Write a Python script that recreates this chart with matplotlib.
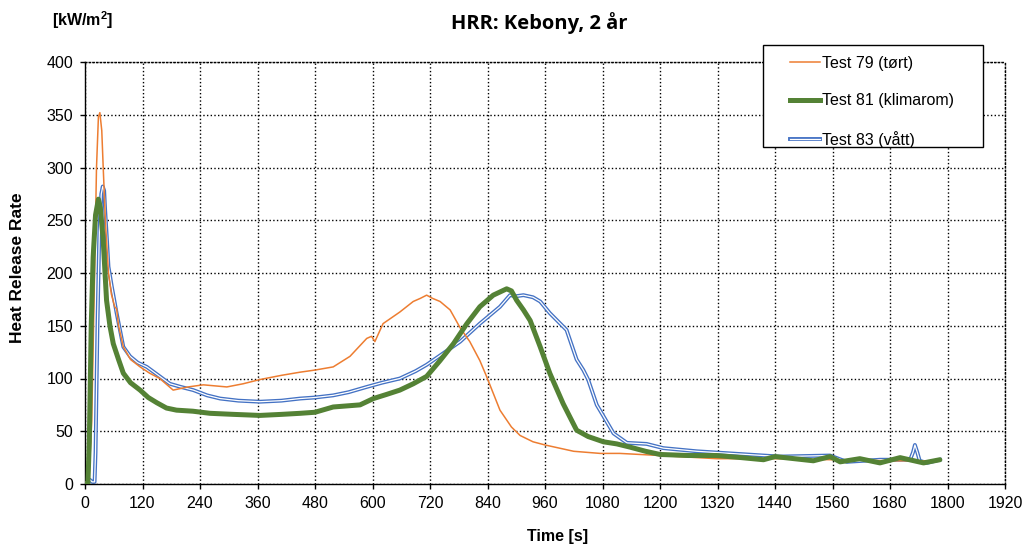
import matplotlib.pyplot as plt
import numpy as np

# Test 79 (tørt)
t79 = [0, 8, 14, 20, 24, 28, 31, 35, 38, 43, 49, 55, 62, 66, 70, 80, 95, 115, 135, 156,
       184, 215, 247, 296, 330, 365, 410, 449, 480, 518, 553, 588, 598, 605, 622, 657,
       685, 700, 713, 725, 741, 762, 783, 803, 824, 838, 866, 890, 908, 935, 960, 1020,
       1075, 1116, 1200, 1318, 1440, 1560, 1680, 1780]
hrr79 = [2, 2, 60, 200, 300, 348, 352, 335, 300, 245, 200, 180, 168, 166, 150, 130, 118, 111, 105, 100,
         89, 92, 94, 92, 95, 99, 103, 106, 108, 111, 121, 138, 140, 135, 152, 163,
         173, 176, 179, 176, 173, 165, 148, 135, 117, 102, 70, 54, 46, 40, 37, 31,
         29, 29, 27, 24, 24, 23, 22, 22]

# Test 81 (klimarom)
t81 = [0, 6, 9, 13, 17, 22, 28, 32, 38, 45, 52, 59, 70, 80, 95, 115, 132, 150, 170, 191,
       225, 261, 310, 365, 410, 449, 480, 518, 574, 602, 630, 657, 685, 713, 741, 769,
       797, 824, 852, 880, 890, 901, 915, 929, 950, 970, 998, 1026, 1050, 1082, 1110,
       1137, 1170, 1200, 1260, 1318, 1370, 1416, 1440, 1480, 1520, 1555, 1576, 1617,
       1659, 1701, 1750, 1784]
hrr81 = [0, 0, 40, 150, 215, 255, 270, 262, 231, 174, 150, 133, 118, 105, 96, 89, 82, 77, 72, 70,
         69, 67, 66, 65, 66, 67, 68, 73, 75, 81, 85, 89, 95, 102, 117, 133,
         152, 168, 179, 185, 183, 174, 165, 155, 130, 105, 76, 51, 45, 40, 38,
         35, 31, 28, 27, 27, 25, 23, 26, 24, 22, 26, 21, 24,
         20, 25, 20, 23]

# Test 83 (vått)
t83 = [0, 5, 10, 15, 20, 22, 26, 30, 34, 37, 40, 42, 46, 49, 56, 66, 80, 94, 110, 129,
       150, 177, 200, 226, 255, 282, 320, 365, 410, 449, 480, 518, 550, 588, 620, 657,
       690, 713, 748, 783, 824, 866, 887, 900, 915, 935, 950, 970, 1005, 1026, 1040, 1050,
       1068, 1085, 1103, 1131, 1172, 1207, 1277, 1381, 1450, 1555, 1590, 1659, 1722,
       1728, 1732, 1737, 1742, 1757, 1784]
hrr83 = [0, 3, 4, 2, 2, 30, 150, 240, 275, 282, 278, 260, 230, 206, 187, 162, 130, 121, 115, 111,
         104, 95, 92, 89, 84, 81, 79, 78, 79, 81, 82, 84, 87, 92, 96, 100,
         107, 113, 124, 135, 152, 168, 179, 178, 179, 177, 173, 162, 146, 118, 108, 99,
         75, 62, 48, 39, 38, 34, 31, 28, 26, 27, 21, 23, 23,
         30, 37, 30, 22, 20, 23]

labels = ['Test 79 (tørt)', 'Test 81 (klimarom)', 'Test 83 (vått)']
x_ticks = np.arange(0, 1921, 120)
y_ticks = np.arange(0, 401, 50)

plt.rcParams['font.family'] = ['Liberation Sans', 'DejaVu Sans']
plt.rcParams['mathtext.fontset'] = 'custom'
plt.rcParams['mathtext.bf'] = 'Liberation Sans:bold'

W, H = 1027, 549
fig = plt.figure(figsize=(W / 100, H / 100), dpi=100)
ax = fig.add_axes([85 / W, 1 - 484 / H, 920 / W, 422 / H])

ax.plot(t79, hrr79, color='#ED7D31', lw=1.1, zorder=3)
ax.plot(t81, hrr81, color='#548235', lw=3.6, zorder=4, solid_capstyle='round')
blue_outer, = ax.plot(t83, hrr83, color='#4472C4', lw=2.8, zorder=2)
blue_inner, = ax.plot(t83, hrr83, color='white', lw=0.9, zorder=2)

ax.set_xlim(0, 1920)
ax.set_ylim(0, 400)
ax.set_xticks(x_ticks)
ax.set_yticks(y_ticks)
ax.tick_params(direction='out', length=3.6, width=1, labelsize=11.5, colors='black', pad=5)
ax.grid(True, color='black', linestyle=':', linewidth=1.0)
ax.set_axisbelow(True)
for side in ['top', 'right']:
    ax.spines[side].set_linestyle(':')
    ax.spines[side].set_linewidth(1.0)
for side in ['left', 'bottom']:
    ax.spines[side].set_linewidth(1.0)

# axis labels placed like in the original sheet
fig.text(557.5 / W, 1 - 536 / H, 'Time [s]', ha='center', va='center',
         fontsize=11.5, fontweight='bold')
fig.text(18 / W, 1 - 268 / H, 'Heat Release Rate', ha='center', va='center',
         rotation=90, fontsize=12.5, fontweight='bold')
fig.text(539 / W, 1 - 23 / H, 'HRR: Kebony, 2 år', ha='center', va='center',
         fontsize=14.5, fontweight='bold', family=['Open Sans', 'DejaVu Sans'])
fig.text(52 / W, 1 - 20 / H, r'[kW/m$\mathbf{^2}$]', ha='left', va='center',
         fontsize=11.5, fontweight='bold')

# legend box (Excel-style, fixed size)
box = plt.Rectangle((763 / W, 1 - 147 / H), 220 / W, 102 / H, transform=fig.transFigure,
                    facecolor='white', edgecolor='black', lw=1.0, zorder=4)
fig.add_artist(box)

h79 = plt.Line2D([], [], color='#ED7D31', lw=1.1)
h81 = plt.Line2D([], [], color='#548235', lw=3.6)
leg = fig.legend([h79, h81, (blue_outer, blue_inner)], labels,
                 loc='upper left', bbox_to_anchor=(790 / W, 1 - 56 / H),
                 fontsize=11.5, frameon=False, handlelength=1.9, handletextpad=0.12,
                 labelspacing=1.4, borderpad=0, borderaxespad=0)
leg.set_zorder(5)

fig.savefig('out.png', dpi=100)
